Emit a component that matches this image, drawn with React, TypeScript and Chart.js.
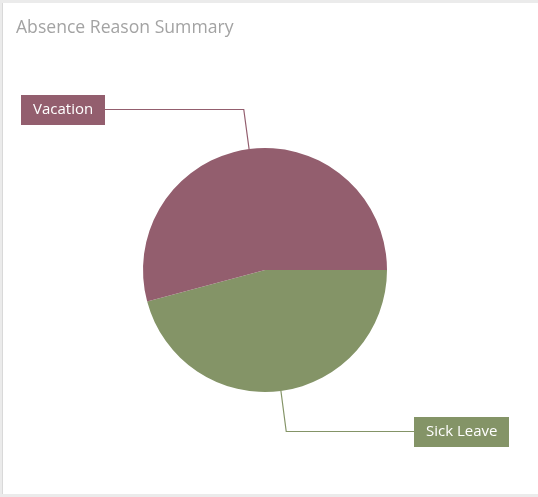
import React, { useEffect, useRef } from "react";
import { Chart, registerables } from "chart.js";

Chart.register(...registerables);

const categories: string[] = ["Sick Leave", "Vacation"];
const values: number[] = [11, 13];
const sliceColors: string[] = ["#849467", "#935e6e"];
const titleText = "Absence Reason Summary";

const leaderLabels = {
  id: "leaderLabels",
  afterDatasetsDraw(chart: any) {
    const ctx = chart.ctx;
    const meta = chart.getDatasetMeta(0);
    ctx.save();
    ctx.font = "15px 'Open Sans', sans-serif";
    meta.data.forEach((arc: any, i: number) => {
      const { x, y, startAngle, endAngle, outerRadius } = arc.getProps(
        ["x", "y", "startAngle", "endAngle", "outerRadius"],
        true
      );
      const mid = (startAngle + endAngle) / 2;
      const cx = Math.cos(mid);
      const sy = Math.sin(mid);
      const ex = x + outerRadius * cx;
      const ey = y + outerRadius * sy;
      const bx = x + outerRadius * (4 / 3) * cx;
      const by = Math.round(y + outerRadius * (4 / 3) * sy) + 0.5;
      const text = categories[i];
      const tw = ctx.measureText(text).width;
      const padX = 12;
      const boxW = Math.round(tw + padX * 2);
      const boxH = 30;
      const left = cx < 0;
      const boxX = Math.round(left ? x - 2 * outerRadius : x + 2 * outerRadius - boxW);
      const innerEdge = left ? boxX + boxW : boxX;
      const color = sliceColors[i];
      ctx.strokeStyle = color;
      ctx.lineWidth = 1.2;
      ctx.beginPath();
      ctx.moveTo(ex, ey);
      ctx.lineTo(bx, by);
      ctx.lineTo(innerEdge, by);
      ctx.stroke();
      ctx.fillStyle = color;
      ctx.fillRect(boxX, Math.round(by - boxH / 2), boxW, boxH);
      ctx.fillStyle = "#ffffff";
      ctx.textBaseline = "middle";
      ctx.textAlign = "left";
      ctx.fillText(text, boxX + padX, by + 0.5);
    });
    ctx.restore();
  },
};

export default function App() {
  const ref = useRef<HTMLCanvasElement | null>(null);
  useEffect(() => {
    document.body.style.margin = "0";
    document.body.style.background = "#ebebeb";
    if (!ref.current) return;
    const chart = new Chart(ref.current, {
      type: "pie",
      data: {
        labels: categories,
        datasets: [
          {
            data: values,
            backgroundColor: sliceColors,
            borderWidth: 0,
            hoverBorderWidth: 0,
            hoverOffset: 0,
          },
        ],
      },
      options: {
        responsive: false,
        animation: false,
        rotation: 90,
        layout: { padding: { left: 0, right: 11, top: 145, bottom: 102 } },
        plugins: {
          legend: { display: false },
          tooltip: { enabled: false },
          title: { display: false },
        },
      },
      plugins: [leaderLabels],
    });
    return () => chart.destroy();
  }, []);
  return (
    <div
      style={{
        position: "absolute",
        left: 2,
        top: 3,
        width: 540,
        height: 491,
        background: "#ffffff",
        borderLeft: "1px solid #d9d9d9",
        overflow: "hidden",
      }}
    >
      <canvas ref={ref} width={535} height={491} style={{ display: "block" }} />
      <div
        style={{
          position: "absolute",
          left: 13,
          top: 13,
          fontFamily: "'Open Sans', sans-serif",
          fontSize: 17.6,
          lineHeight: "20px",
          color: "#a3a3a3",
          whiteSpace: "nowrap",
        }}
      >
        {titleText}
      </div>
    </div>
  );
}
